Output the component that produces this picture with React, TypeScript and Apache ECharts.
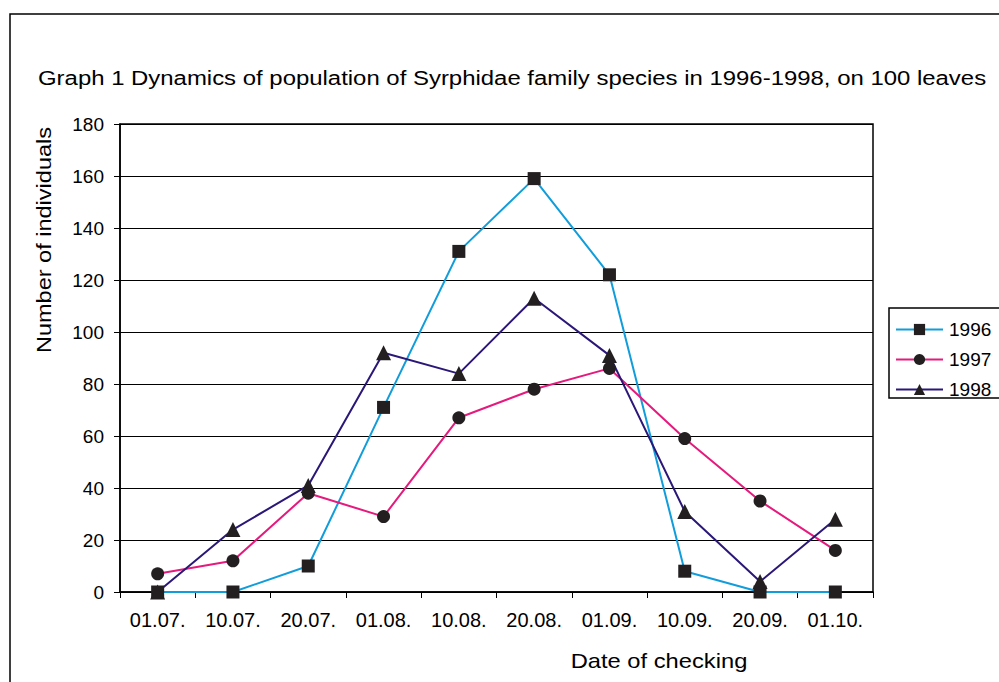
import React, { useEffect, useRef } from "react";
import * as echarts from "echarts";

const categories = ["01.07.", "10.07.", "20.07.", "01.08.", "10.08.", "20.08.", "01.09.", "10.09.", "20.09.", "01.10."];
const s1996 = [0, 0, 10, 71, 131, 159, 122, 8, 0, 0];
const s1997 = [7, 12, 38, 29, 67, 78, 86, 59, 35, 16];
const s1998 = [0, 24, 41, 92, 84, 113, 91, 31, 4, 28];
const seriesNames = ["1996", "1997", "1998"];
const titleText = "Graph 1 Dynamics of population of Syrphidae family species in 1996-1998, on 100 leaves";
const yName = "Number of individuals";
const xName = "Date of checking";

const FONT = "Liberation Sans, Arial, sans-serif";
const MARK = "#231f20";

export default function App() {
  const ref = useRef<HTMLDivElement>(null);
  useEffect(() => {
    if (!ref.current) return;
    const chart = echarts.init(ref.current, undefined, { renderer: "svg" });
    const mk = (name: string, data: number[], color: string, symbol: string, size: number) => ({
      name,
      type: "line",
      data,
      symbol,
      symbolSize: size,
      showSymbol: true,
      lineStyle: { color, width: 2 },
      itemStyle: { color: MARK },
      emphasis: { disabled: true },
    });
    chart.setOption({
      animation: false,
      backgroundColor: "#fff",
      textStyle: { fontFamily: FONT },
      legend: {
        orient: "vertical",
        left: 895,
        top: 320,
        padding: 0,
        itemWidth: 47,
        itemHeight: 14,
        itemGap: 11,
        data: seriesNames,
        textStyle: { fontFamily: FONT, fontSize: 19, color: "#000", lineHeight: 18, padding: [0, 0, 0, 1] },
      },
      grid: {
        left: 120,
        right: 126,
        top: 124,
        bottom: 90,
        show: true,
        borderColor: "#000",
        borderWidth: 1.5,
        containLabel: false,
      },
      xAxis: {
        type: "category",
        data: categories,
        boundaryGap: true,
        axisLine: { lineStyle: { color: "#000", width: 1.5 } },
        axisTick: { show: true, length: 6, inside: false, alignWithLabel: false, lineStyle: { color: "#000" } },
        axisLabel: { color: "#000", fontSize: 20, fontFamily: FONT, margin: 18 },
        splitLine: { show: false },
      },
      yAxis: {
        type: "value",
        min: 0,
        max: 180,
        interval: 20,
        axisLine: { show: true, lineStyle: { color: "#000", width: 1.5 } },
        axisTick: { show: true, length: 6, lineStyle: { color: "#000" } },
        axisLabel: { color: "#000", fontSize: 19, fontFamily: FONT, margin: 16 },
        splitLine: { show: true, lineStyle: { color: "#000", width: 1 } },
      },
      graphic: [
        {
          type: "rect",
          shape: { x: 10, y: 14, width: 1100, height: 800 },
          style: { fill: "none", stroke: "#000", lineWidth: 1.5 },
          silent: true,
          z: -1,
        },
        {
          type: "rect",
          shape: { x: 889, y: 308, width: 130, height: 90 },
          style: { fill: "none", stroke: "#000", lineWidth: 1.5 },
          silent: true,
        },
        {
          type: "text",
          x: 38,
          y: 78,
          scaleX: 1.14,
          style: {
            text: titleText,
            fontFamily: FONT,
            fontSize: 21,
            fill: "#000",
            textAlign: "left",
            textVerticalAlign: "middle",
          },
        },
        {
          type: "text",
          x: 44,
          y: 240,
          rotation: Math.PI / 2,
          scaleX: 1.12,
          style: {
            text: yName,
            fontFamily: FONT,
            fontSize: 21,
            fill: "#000",
            textAlign: "center",
            textVerticalAlign: "middle",
          },
        },
        {
          type: "text",
          x: 659,
          y: 661,
          scaleX: 1.13,
          style: {
            text: xName,
            fontFamily: FONT,
            fontSize: 21,
            fill: "#000",
            textAlign: "center",
            textVerticalAlign: "middle",
          },
        },
      ],
      series: [
        mk("1996", s1996, "#119ddb", "rect", 13),
        mk("1997", s1997, "#e6197d", "circle", 13),
        mk("1998", s1998, "#2a1778", "triangle", 15),
      ],
    });
    return () => chart.dispose();
  }, []);
  return <div ref={ref} style={{ width: 999, height: 682, position: "absolute", left: 0, top: 0 }} />;
}
